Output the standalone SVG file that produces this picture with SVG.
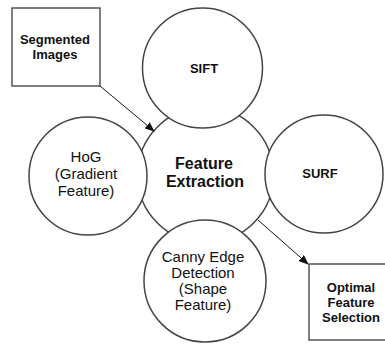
<svg xmlns="http://www.w3.org/2000/svg" width="385" height="344" viewBox="0 0 385 344">
<style>
.c{fill:#fff;stroke:#444;stroke-width:1.5}
.b{fill:#fff;stroke:#555;stroke-width:1.5}
.t{font-family:"Liberation Sans",Arial,sans-serif;fill:#111;text-anchor:middle}
.bd{font-weight:bold;font-size:13px}
.rg{font-size:15px}
.lg{font-weight:bold;font-size:16px}
.a{stroke:#111;stroke-width:1;fill:none;marker-end:url(#ah)}
</style>
<defs>
<marker id="ah" markerWidth="10" markerHeight="8" refX="9" refY="4" orient="auto" markerUnits="userSpaceOnUse">
<path d="M0,0 L10,4 L0,8 Z" fill="#111"/>
</marker>
</defs>
<g id="feature-extraction">
<circle class="c" cx="205.5" cy="175" r="68"/>
<text class="t lg" x="204" y="169">Feature</text>
<text class="t lg" x="205" y="187">Extraction</text>
</g>
<g id="sift">
<circle class="c" cx="202.5" cy="68" r="60"/>
<text class="t bd" x="204" y="73">SIFT</text>
</g>
<g id="hog">
<circle class="c" cx="88" cy="176" r="59"/>
<text class="t rg" x="86" y="162">HoG</text>
<text class="t rg" x="86" y="179">(Gradient</text>
<text class="t rg" x="86" y="196">Feature)</text>
</g>
<g id="surf">
<circle class="c" cx="324" cy="174" r="59"/>
<text class="t bd" x="320" y="178">SURF</text>
</g>
<g id="canny">
<circle class="c" cx="205" cy="281" r="61"/>
<text class="t rg" x="203" y="262">Canny Edge</text>
<text class="t rg" x="203" y="278">Detection</text>
<text class="t rg" x="203" y="294">(Shape</text>
<text class="t rg" x="203" y="310">Feature)</text>
</g>
<g id="segmented-images">
<rect class="b" x="12" y="8" width="88" height="78"/>
<text class="t bd" x="55" y="44">Segmented</text>
<text class="t bd" x="55" y="59">Images</text>
</g>
<g id="optimal-feature-selection">
<rect class="b" x="309" y="264" width="82" height="76"/>
<text class="t bd" x="351" y="292">Optimal</text>
<text class="t bd" x="351" y="307">Feature</text>
<text class="t bd" x="351" y="322">Selection</text>
</g>
<g id="connectors">
<line class="a" x1="100" y1="86" x2="154" y2="131"/>
<line class="a" x1="258" y1="220" x2="308" y2="264"/>
</g>
</svg>
